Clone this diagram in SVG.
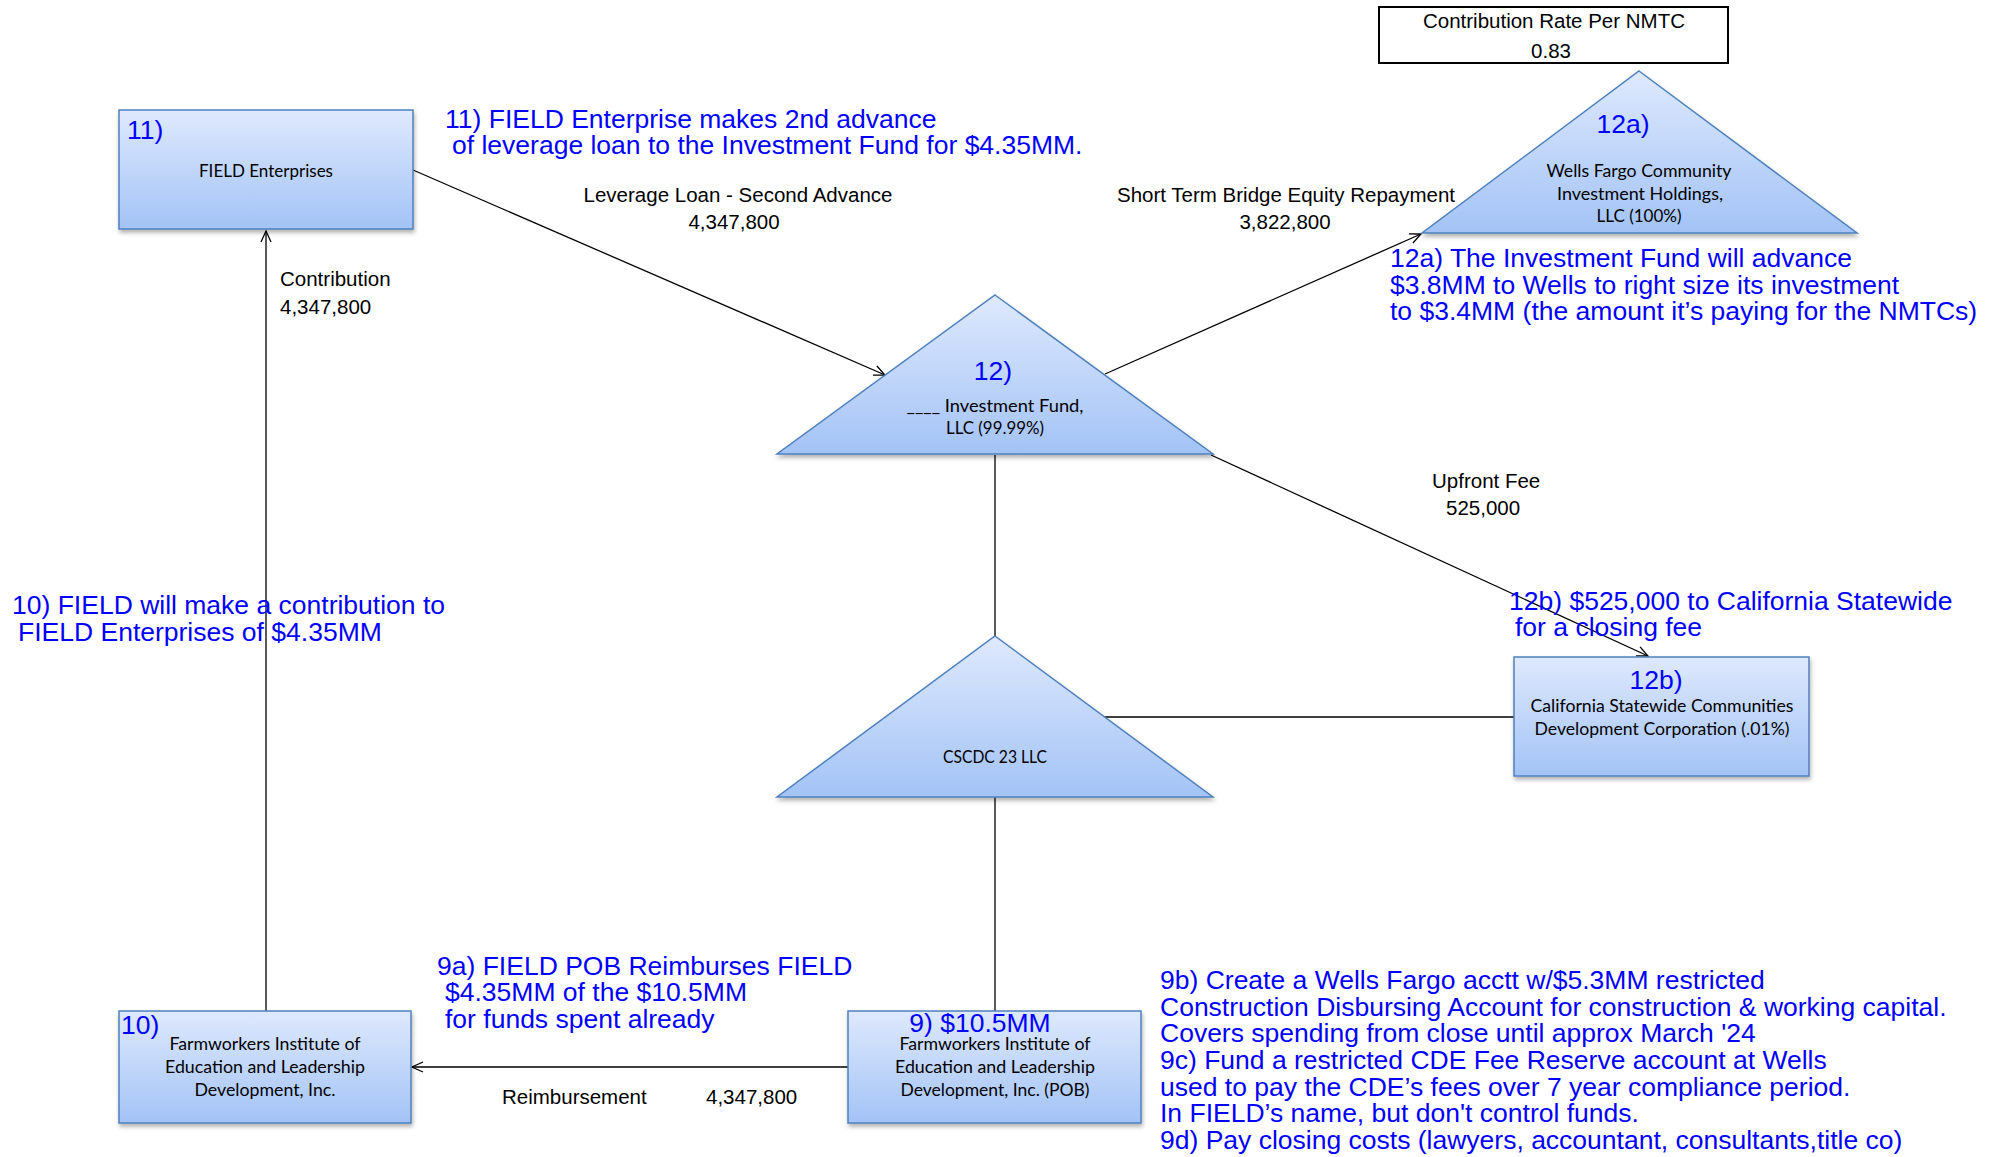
<svg xmlns="http://www.w3.org/2000/svg" width="1999" height="1157" viewBox="0 0 1999 1157">
<defs>
 <linearGradient id="g" x1="0" y1="0" x2="0" y2="1">
  <stop offset="0" stop-color="#dee9fd"/>
  <stop offset="1" stop-color="#a3c3f6"/>
 </linearGradient>
 <filter id="sh" x="-5%" y="-5%" width="112%" height="125%">
  <feDropShadow dx="1" dy="3" stdDeviation="2" flood-color="#000" flood-opacity="0.3"/>
 </filter>
 <marker id="arr" markerWidth="14" markerHeight="14" refX="12" refY="6" orient="auto" markerUnits="userSpaceOnUse">
  <path d="M1,1 L12,6 L1,11" fill="none" stroke="#000" stroke-width="1.3"/>
 </marker>
</defs>
<style>
 .shape{fill:url(#g);stroke:#4f81bd;stroke-width:1.5;filter:url(#sh)}
 .nt{font-family:Lato,"Noto Sans",sans-serif;font-size:17px;fill:#000;text-anchor:middle}
 .num{font-family:"Liberation Sans",Arial,sans-serif;font-size:26.5px;fill:#0000ff}
 .ann{font-family:"Liberation Sans",Arial,sans-serif;font-size:26.5px;fill:#0000ff}
 .lbl{font-family:"Liberation Sans",Arial,sans-serif;font-size:20.5px;fill:#000}
 .c{fill:none;stroke:#000;stroke-width:1.3}
 .mid{text-anchor:middle}
</style>
<rect width="1999" height="1157" fill="#fff"/>

<g id="connectors">
 <line class="c" x1="413" y1="170" x2="885" y2="375" marker-end="url(#arr)"/>
 <line class="c" x1="1105" y1="374" x2="1421" y2="234" marker-end="url(#arr)"/>
 <line class="c" x1="1211" y1="455" x2="1648" y2="656" marker-end="url(#arr)"/>
 <line class="c" x1="995" y1="455" x2="995" y2="636"/>
 <line class="c" x1="1103" y1="717" x2="1514" y2="717"/>
 <line class="c" x1="995" y1="797" x2="995" y2="1011"/>
 <line class="c" x1="848" y1="1067" x2="412" y2="1067" marker-end="url(#arr)"/>
 <line class="c" x1="266" y1="1011" x2="266" y2="231" marker-end="url(#arr)"/>
</g>

<g id="rate-box">
 <rect x="1379" y="7" width="349" height="56" fill="#fff" stroke="#000" stroke-width="2"/>
 <text class="lbl mid" x="1554" y="28">Contribution Rate Per NMTC</text>
 <text class="lbl mid" x="1551" y="58">0.83</text>
</g>

<g id="node-11">
 <rect class="shape" x="119" y="110" width="294" height="119"/>
 <text class="num" x="127" y="139">11)</text>
 <text class="nt" x="266" y="177" textLength="134" lengthAdjust="spacingAndGlyphs">FIELD Enterprises</text>
</g>

<g id="node-12a">
 <polygon class="shape" points="1639,71 1857,233 1422,233"/>
 <text class="num mid" x="1623" y="133">12a)</text>
 <text class="nt" x="1639" y="177" textLength="185" lengthAdjust="spacingAndGlyphs">Wells Fargo Community</text>
 <text class="nt" x="1640" y="200" textLength="166" lengthAdjust="spacingAndGlyphs">Investment Holdings,</text>
 <text class="nt" x="1639" y="222" textLength="85" lengthAdjust="spacingAndGlyphs">LLC (100%)</text>
</g>

<g id="node-12">
 <polygon class="shape" points="995,295 1213,454 777,454"/>
 <text class="num mid" x="993" y="380">12)</text>
 <text class="nt" x="995" y="412" textLength="177" lengthAdjust="spacingAndGlyphs">____ Investment Fund,</text>
 <text class="nt" x="995" y="434" textLength="98" lengthAdjust="spacingAndGlyphs">LLC (99.99%)</text>
</g>

<g id="node-cscdc">
 <polygon class="shape" points="995,636 1213,797 777,797"/>
 <text class="nt" x="995" y="763" textLength="104" lengthAdjust="spacingAndGlyphs">CSCDC 23 LLC</text>
</g>

<g id="node-12b">
 <rect class="shape" x="1514" y="657" width="295" height="119"/>
 <text class="num mid" x="1656" y="689">12b)</text>
 <text class="nt" x="1662" y="712" textLength="263" lengthAdjust="spacingAndGlyphs">California Statewide Communities</text>
 <text class="nt" x="1662" y="735" textLength="255" lengthAdjust="spacingAndGlyphs">Development Corporation (.01%)</text>
</g>

<g id="node-9">
 <rect class="shape" x="848" y="1011" width="293" height="112"/>
 <text class="num mid" x="980" y="1032">9) $10.5MM</text>
 <text class="nt" x="995" y="1050" textLength="191" lengthAdjust="spacingAndGlyphs">Farmworkers Institute of</text>
 <text class="nt" x="995" y="1073" textLength="200" lengthAdjust="spacingAndGlyphs">Education and Leadership</text>
 <text class="nt" x="995" y="1096" textLength="189" lengthAdjust="spacingAndGlyphs">Development, Inc. (POB)</text>
</g>

<g id="node-10">
 <rect class="shape" x="119" y="1011" width="292" height="112"/>
 <text class="num" x="121" y="1034">10)</text>
 <text class="nt" x="265" y="1050" textLength="191" lengthAdjust="spacingAndGlyphs">Farmworkers Institute of</text>
 <text class="nt" x="265" y="1073" textLength="200" lengthAdjust="spacingAndGlyphs">Education and Leadership</text>
 <text class="nt" x="265" y="1096" textLength="141" lengthAdjust="spacingAndGlyphs">Development, Inc.</text>
</g>

<g id="labels">
 <text class="lbl mid" x="738" y="202">Leverage Loan - Second Advance</text>
 <text class="lbl mid" x="734" y="229">4,347,800</text>
 <text class="lbl" x="1117" y="202">Short Term Bridge Equity Repayment</text>
 <text class="lbl mid" x="1285" y="229">3,822,800</text>
 <text class="lbl" x="280" y="286">Contribution</text>
 <text class="lbl" x="280" y="314">4,347,800</text>
 <text class="lbl" x="1432" y="488">Upfront Fee</text>
 <text class="lbl" x="1446" y="515">525,000</text>
 <text class="lbl" x="502" y="1104">Reimbursement</text>
 <text class="lbl" x="706" y="1104">4,347,800</text>
</g>

<g id="annotations">
 <text class="ann" x="445" y="128">11) FIELD Enterprise makes 2nd advance</text>
 <text class="ann" x="452" y="154">of leverage loan to the Investment Fund for $4.35MM.</text>
 <text class="ann" x="1390" y="267">12a) The Investment Fund will advance</text>
 <text class="ann" x="1390" y="294">$3.8MM to Wells to right size its investment</text>
 <text class="ann" x="1390" y="320">to $3.4MM (the amount it’s paying for the NMTCs)</text>
 <text class="ann" x="12" y="614">10) FIELD will make a contribution to</text>
 <text class="ann" x="18" y="641">FIELD Enterprises of $4.35MM</text>
 <text class="ann" x="1509" y="610">12b) $525,000 to California Statewide</text>
 <text class="ann" x="1515" y="636">for a closing fee</text>
 <text class="ann" x="437" y="975">9a) FIELD POB Reimburses FIELD</text>
 <text class="ann" x="445" y="1001">$4.35MM of the $10.5MM</text>
 <text class="ann" x="445" y="1028">for funds spent already</text>
 <text class="ann" x="1160" y="989">9b) Create a Wells Fargo acctt w/$5.3MM restricted</text>
 <text class="ann" x="1160" y="1016">Construction Disbursing Account for construction &amp; working capital.</text>
 <text class="ann" x="1160" y="1042">Covers spending from close until approx March '24</text>
 <text class="ann" x="1160" y="1069">9c) Fund a restricted CDE Fee Reserve account at Wells</text>
 <text class="ann" x="1160" y="1096">used to pay the CDE’s fees over 7 year compliance period.</text>
 <text class="ann" x="1160" y="1122">In FIELD’s name, but don't control funds.</text>
 <text class="ann" x="1160" y="1149">9d) Pay closing costs (lawyers, accountant, consultants,title co)</text>
</g>
</svg>
